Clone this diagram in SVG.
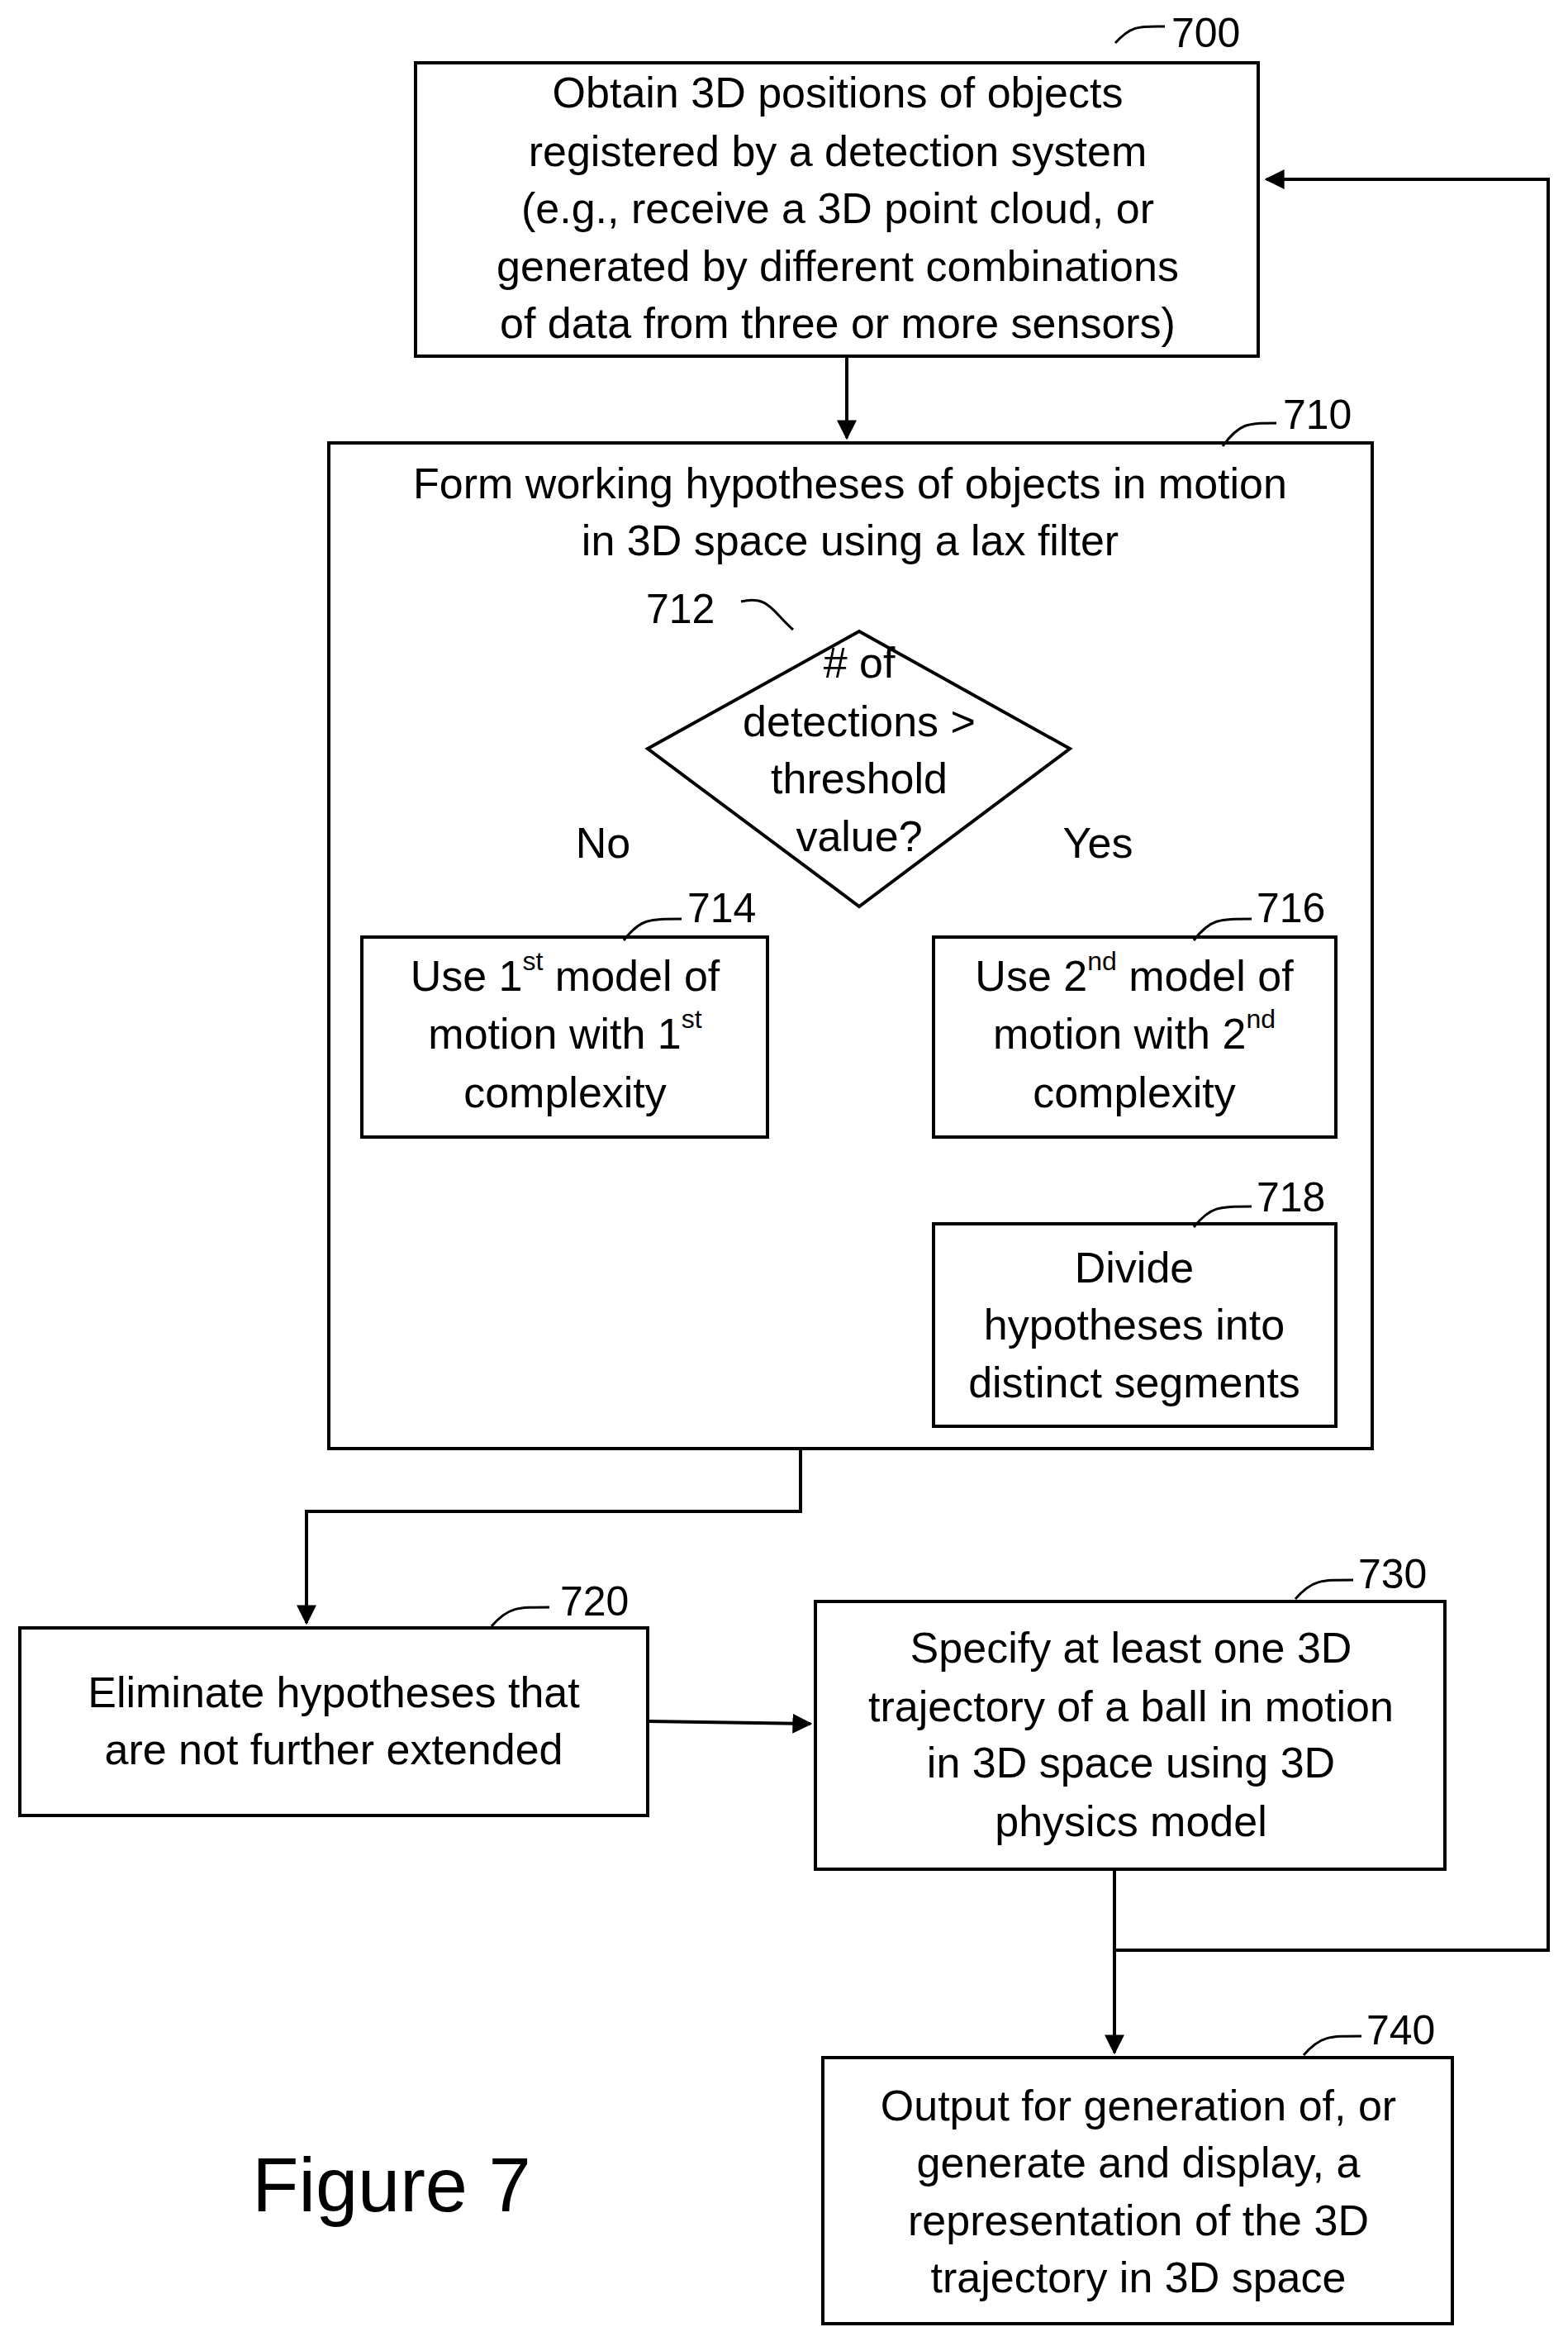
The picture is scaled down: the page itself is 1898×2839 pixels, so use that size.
<svg xmlns="http://www.w3.org/2000/svg" width="1898" height="2839" viewBox="0 0 1898 2839">
<defs>
<style>
.b{fill:#fff;stroke:#000;stroke-width:4}
.t{font-family:"Liberation Sans",Arial,sans-serif;font-size:52px;text-anchor:middle;dominant-baseline:central}
.l{font-family:"Liberation Sans",Arial,sans-serif;font-size:50px;dominant-baseline:central}
.c{fill:none;stroke:#000;stroke-width:4}
.s{fill:none;stroke:#000;stroke-width:3}
.sup{font-size:32px}
</style>
<marker id="a" viewBox="0 0 10 10" refX="9" refY="5" markerWidth="6" markerHeight="6" orient="auto"><path d="M0,0L10,5L0,10z"/></marker>
</defs>
<rect width="1898" height="2839" fill="#fff"/>
<g id="connectors">
<path class="c" d="M1025,431V530" marker-end="url(#a)"/>
<path class="c" d="M784,906L690,1128" marker-end="url(#a)"/>
<path class="c" d="M1295,906L1349,1128" marker-end="url(#a)"/>
<path class="c" d="M1364,1376V1475" marker-end="url(#a)"/>
<path class="c" d="M969,1753V1829H371V1964" marker-end="url(#a)"/>
<path class="c" d="M784,2083L981,2086" marker-end="url(#a)"/>
<path class="c" d="M1349,2262V2484" marker-end="url(#a)"/>
<path class="c" d="M1349,2360H1874V217H1533" marker-end="url(#a)"/>
</g>
<g id="n700"><rect class="b" x="503" y="76" width="1020" height="355"/>
<text class="t" x="1014" y="112">Obtain 3D positions of objects</text>
<text class="t" x="1014" y="183">registered by a detection system</text>
<text class="t" x="1014" y="252">(e.g., receive a 3D point cloud, or</text>
<text class="t" x="1014" y="322">generated by different combinations</text>
<text class="t" x="1014" y="391">of data from three or more sensors)</text>
<path class="s" d="M1350,52C1370,30 1380,32 1410,32"/><text class="l" x="1418" y="40">700</text></g>
<g id="n710"><rect class="b" x="398" y="536" width="1263" height="1217"/>
<text class="t" x="1029" y="585">Form working hypotheses of objects in motion</text>
<text class="t" x="1029" y="654">in 3D space using a lax filter</text>
<path class="s" d="M1480,540C1500,512 1510,512 1545,512"/><text class="l" x="1553" y="502">710</text></g>
<g id="n712"><path class="b" d="M1040,764L1295,906L1040,1097L784,906Z"/>
<text class="t" x="1040" y="802"># of</text>
<text class="t" x="1040" y="873">detections &gt;</text>
<text class="t" x="1040" y="942">threshold</text>
<text class="t" x="1040" y="1012">value?</text>
<path class="s" d="M897,728C930,720 935,740 960,762"/><text class="l" x="782" y="737">712</text></g>
<text class="t" x="730" y="1020">No</text>
<text class="t" x="1329" y="1020">Yes</text>
<g id="n714"><rect class="b" x="438" y="1134" width="491" height="242"/>
<text class="t" x="684" y="1181">Use 1<tspan class="sup" dy="-18">st</tspan><tspan dy="18"> model of</tspan></text>
<text class="t" x="684" y="1251">motion with 1<tspan class="sup" dy="-18">st</tspan></text>
<text class="t" x="684" y="1322">complexity</text>
<path class="s" d="M755,1138C775,1112 785,1112 825,1112"/><text class="l" x="832" y="1099">714</text></g>
<g id="n716"><rect class="b" x="1130" y="1134" width="487" height="242"/>
<text class="t" x="1373" y="1181">Use 2<tspan class="sup" dy="-18">nd</tspan><tspan dy="18"> model of</tspan></text>
<text class="t" x="1373" y="1251">motion with 2<tspan class="sup" dy="-18">nd</tspan></text>
<text class="t" x="1373" y="1322">complexity</text>
<path class="s" d="M1445,1138C1465,1112 1475,1112 1515,1112"/><text class="l" x="1521" y="1099">716</text></g>
<g id="n718"><rect class="b" x="1130" y="1481" width="487" height="245"/>
<text class="t" x="1373" y="1534">Divide</text>
<text class="t" x="1373" y="1603">hypotheses into</text>
<text class="t" x="1373" y="1673">distinct segments</text>
<path class="s" d="M1445,1485C1465,1460 1475,1460 1515,1460"/><text class="l" x="1521" y="1449">718</text></g>
<g id="n720"><rect class="b" x="24" y="1970" width="760" height="227"/>
<text class="t" x="404" y="2048">Eliminate hypotheses that</text>
<text class="t" x="404" y="2117">are not further extended</text>
<path class="s" d="M595,1968C615,1945 625,1945 665,1945"/><text class="l" x="678" y="1938">720</text></g>
<g id="n730"><rect class="b" x="987" y="1938" width="762" height="324"/>
<text class="t" x="1369" y="1994">Specify at least one 3D</text>
<text class="t" x="1369" y="2065">trajectory of a ball in motion</text>
<text class="t" x="1369" y="2133">in 3D space using 3D</text>
<text class="t" x="1369" y="2204">physics model</text>
<path class="s" d="M1568,1935C1588,1912 1598,1912 1638,1912"/><text class="l" x="1644" y="1905">730</text></g>
<g id="n740"><rect class="b" x="996" y="2490" width="762" height="322"/>
<text class="t" x="1378" y="2548">Output for generation of, or</text>
<text class="t" x="1378" y="2617">generate and display, a</text>
<text class="t" x="1378" y="2687">representation of the 3D</text>
<text class="t" x="1378" y="2756">trajectory in 3D space</text>
<path class="s" d="M1578,2487C1598,2464 1608,2464 1648,2464"/><text class="l" x="1654" y="2457">740</text></g>
<text x="474" y="2644" font-family="Liberation Sans,Arial,sans-serif" font-size="92" text-anchor="middle" dominant-baseline="central">Figure 7</text>
</svg>
